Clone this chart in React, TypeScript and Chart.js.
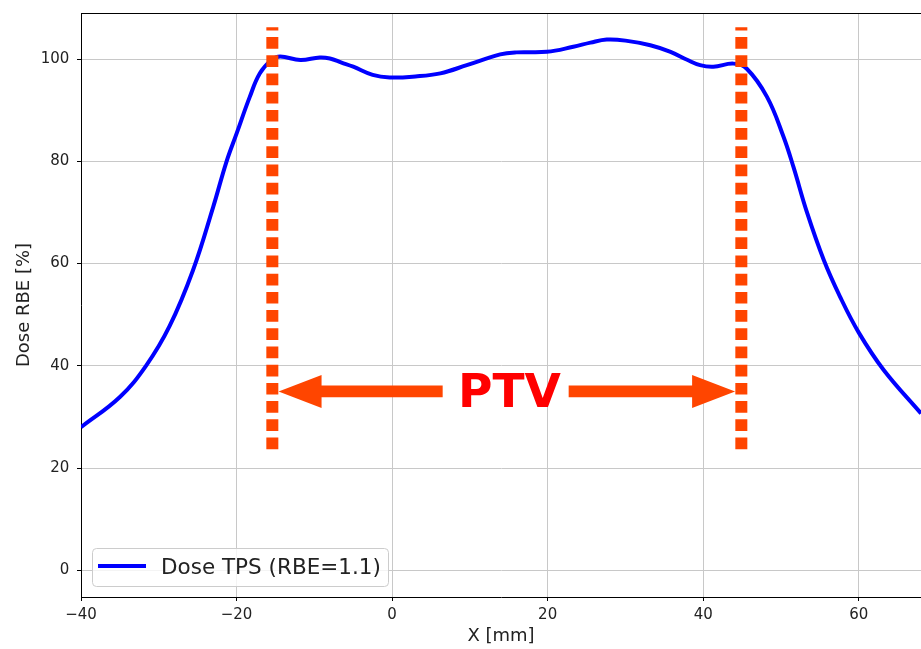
import React, { useEffect, useRef } from 'react';
import { Chart, registerables } from 'chart.js';

Chart.register(...registerables);

// ---- data ----
const positionsMm = [
  -40, -35, -31.6, -28.6, -25.6, -23, -21.3, -20, -18.3, -17, -15.5, -14.4, -11.8, -9.3, -8, -6.5,
  -5, -2.5, -0.3, 3, 6.2, 9.6, 13.9, 16, 19.9, 23.3, 25.5, 27.6, 30, 33.2, 35.8, 38, 39.6, 41.3,
  43.9, 45.6, 48.2, 50.3, 51.6, 53.3, 55.5, 57.6, 60, 63.2, 68,
];
const dosePercent = [
  28.0, 33.9, 40.1, 47.8, 58.7, 71.1, 79.9, 85.4, 92.6, 97.2, 99.8, 100.5, 99.8, 100.3, 100.1, 99.3,
  98.5, 96.9, 96.4, 96.6, 97.2, 98.8, 100.9, 101.3, 101.4, 102.4, 103.2, 103.8, 103.6, 102.7, 101.4, 99.8, 98.8, 98.5,
  99.1, 98.1, 92.6, 84.9, 78.9, 70.2, 60.7, 53.5, 46.5, 39.2, 30.7,
];
const ptvEdgesMm = [-15.4, 44.9];
const ptvLineDoseRange = [23.7, 106.2];
const arrowTailsMm = [6.5, 22.7];
const arrowTipsMm = [-14.6, 44.1];
const arrowDose = 35;
const ptvLabel = 'PTV';
const ptvLabelPos = [15.1, 32];
const xTickValues = [-40, -20, 0, 20, 40, 60];
const yTickValues = [0, 20, 40, 60, 80, 100];
const xRange = [-40, 68];
const yRange = [-5.2, 109];
const seriesLabel = 'Dose TPS (RBE=1.1)';
const xTitle = 'X [mm]';
const yTitle = 'Dose RBE [%]';

const FONT = '"DejaVu Sans", "Liberation Sans", sans-serif';
const ORANGE = '#ff4500';

const topSpinePlugin = {
  id: 'topSpine',
  afterDraw(chart: any) {
    const { ctx, chartArea } = chart;
    ctx.save();
    ctx.strokeStyle = '#000';
    ctx.lineWidth = 1;
    ctx.beginPath();
    ctx.moveTo(chartArea.left, Math.round(chartArea.top) + 0.5);
    ctx.lineTo(chartArea.right, Math.round(chartArea.top) + 0.5);
    ctx.stroke();
    ctx.restore();
  },
};

const annotationPlugin = {
  id: 'ptvAnnotation',
  afterDatasetsDraw(chart: any) {
    const { ctx } = chart;
    const xs = chart.scales.x;
    const ys = chart.scales.y;
    ctx.save();
    ctx.fillStyle = ORANGE;
    const y = ys.getPixelForValue(arrowDose);
    const shaftHalf = 5.9;
    const headHalf = 16.5;
    const headLen = 43;
    for (let i = 0; i < arrowTailsMm.length; i++) {
      const x0 = xs.getPixelForValue(arrowTailsMm[i]);
      const x1 = xs.getPixelForValue(arrowTipsMm[i]);
      const dir = Math.sign(x1 - x0);
      const xb = x1 - dir * headLen;
      ctx.beginPath();
      ctx.moveTo(x0, y - shaftHalf);
      ctx.lineTo(xb, y - shaftHalf);
      ctx.lineTo(xb, y - headHalf);
      ctx.lineTo(x1, y);
      ctx.lineTo(xb, y + headHalf);
      ctx.lineTo(xb, y + shaftHalf);
      ctx.lineTo(x0, y + shaftHalf);
      ctx.closePath();
      ctx.fill();
    }
    ctx.fillStyle = '#ff0000';
    ctx.font = `bold 47px ${FONT}`;
    ctx.textAlign = 'center';
    ctx.textBaseline = 'alphabetic';
    ctx.fillText(ptvLabel, xs.getPixelForValue(ptvLabelPos[0]), ys.getPixelForValue(ptvLabelPos[1]));
    ctx.restore();
  },
};

const legendPlugin = {
  id: 'mplLegend',
  afterDraw(chart: any) {
    const { ctx, chartArea } = chart;
    const w = 296;
    const h = 38;
    const x = chartArea.left + 11;
    const y = chartArea.bottom - 11 - h;
    ctx.save();
    ctx.beginPath();
    if (ctx.roundRect) ctx.roundRect(x + 0.5, y + 0.5, w, h, 4);
    else ctx.rect(x + 0.5, y + 0.5, w, h);
    ctx.fillStyle = 'rgba(255,255,255,0.8)';
    ctx.fill();
    ctx.strokeStyle = '#cccccc';
    ctx.lineWidth = 1;
    ctx.stroke();
    ctx.strokeStyle = '#0000ff';
    ctx.lineWidth = 4;
    ctx.beginPath();
    ctx.moveTo(x + 6, y + 18);
    ctx.lineTo(x + 54, y + 18);
    ctx.stroke();
    ctx.fillStyle = '#222';
    ctx.font = `21.5px ${FONT}`;
    ctx.textAlign = 'left';
    ctx.textBaseline = 'alphabetic';
    ctx.fillText(seriesLabel, x + 69, y + 26);
    ctx.restore();
  },
};

const minusFmt = (v: any) => String(v).replace('-', '\u2212');

export default function App() {
  const canvasRef = useRef<HTMLCanvasElement | null>(null);

  useEffect(() => {
    document.body.style.margin = '0';
    const canvas = canvasRef.current;
    if (!canvas) return;
    const curve = positionsMm.map((x, i) => ({ x, y: dosePercent[i] }));
    const edgeSets = ptvEdgesMm.map((xe) => ({
      label: 'PTV edge',
      data: [
        { x: xe, y: ptvLineDoseRange[0] },
        { x: xe, y: ptvLineDoseRange[1] },
      ],
      borderColor: ORANGE,
      borderWidth: 12,
      borderDash: [11.7, 6.5],
      borderCapStyle: 'butt',
      pointRadius: 0,
      tension: 0,
      fill: false,
      order: 1,
    }));
    const chart = new Chart(canvas, {
      type: 'line',
      data: {
        datasets: [
          {
            label: seriesLabel,
            data: curve,
            borderColor: '#0000ff',
            borderWidth: 4,
            pointRadius: 0,
            tension: 0.4,
            borderJoinStyle: 'round',
            fill: false,
            order: 2,
          } as any,
          ...(edgeSets as any[]),
        ],
      },
      options: {
        responsive: false,
        animation: false,
        events: [],
        layout: { padding: { top: 13, right: 0, bottom: 0, left: 0 } },
        plugins: { legend: { display: false }, tooltip: { enabled: false } },
        scales: {
          x: {
            type: 'linear',
            min: xRange[0],
            max: xRange[1],
            afterBuildTicks: (s: any) => {
              s.ticks = xTickValues.map((value) => ({ value }));
            },
            afterFit: (s: any) => {
              s.height = 52;
              s.paddingLeft = 0;
              s.paddingRight = 0;
            },
            ticks: {
              callback: minusFmt,
              color: '#222',
              font: { family: FONT, size: 15 },
              padding: 4.8,
              maxRotation: 0,
              autoSkip: false,
            },
            grid: {
              color: '#c8c8c8',
              lineWidth: 1,
              tickLength: 4,
              tickColor: '#000',
              drawTicks: true,
            },
            border: { display: true, color: '#000', width: 1 },
            title: {
              display: true,
              text: xTitle,
              color: '#222',
              font: { family: FONT, size: 18 },
              padding: { top: 0, bottom: 1.8 },
            },
          },
          y: {
            type: 'linear',
            min: yRange[0],
            max: yRange[1],
            afterBuildTicks: (s: any) => {
              s.ticks = yTickValues.map((value) => ({ value }));
            },
            afterFit: (s: any) => {
              s.width = 81;
              s.paddingTop = 0;
              s.paddingBottom = 0;
            },
            ticks: {
              callback: minusFmt,
              color: '#222',
              font: { family: FONT, size: 15 },
              padding: 7.7,
              autoSkip: false,
            },
            grid: {
              color: '#c8c8c8',
              lineWidth: 1,
              tickLength: 4,
              tickColor: '#000',
              drawTicks: true,
            },
            border: { display: true, color: '#000', width: 1 },
            title: {
              display: true,
              text: yTitle,
              color: '#222',
              font: { family: FONT, size: 18 },
              padding: { top: 13.4, bottom: 0 },
            },
          },
        },
      } as any,
      plugins: [topSpinePlugin, annotationPlugin, legendPlugin],
    });
    return () => chart.destroy();
  }, []);

  return (
    <div style={{ position: 'absolute', left: 0, top: 0, width: 921, height: 649 }}>
      <canvas ref={canvasRef} width={921} height={649} style={{ display: 'block' }} />
    </div>
  );
}
